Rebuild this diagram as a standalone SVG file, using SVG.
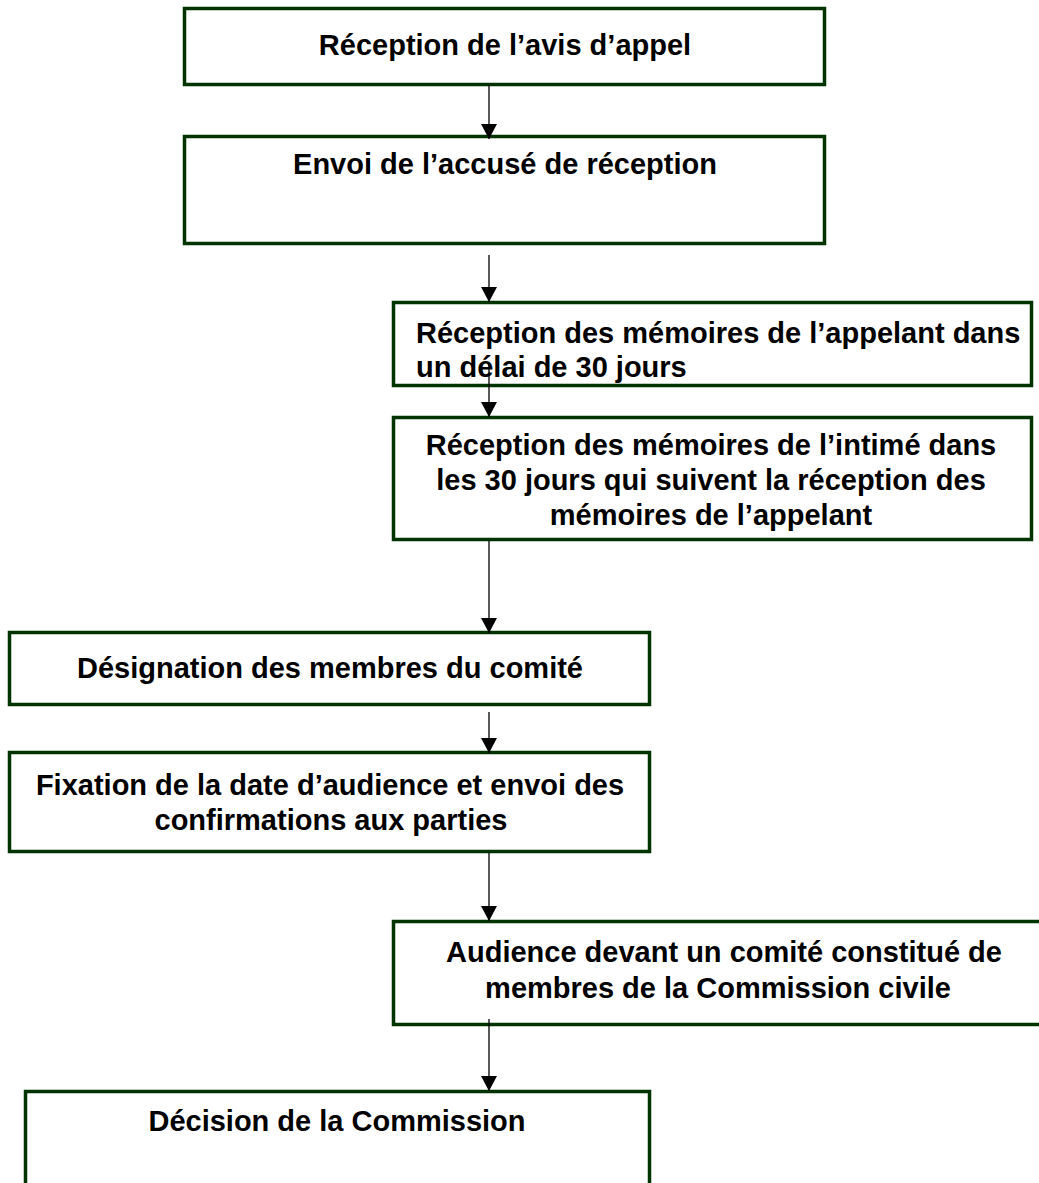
<svg xmlns="http://www.w3.org/2000/svg" width="1039" height="1183" viewBox="0 0 1039 1183">
<style>
.box{fill:#fff;stroke:#003300;stroke-width:3.5}
.t{font-family:"Liberation Sans",Arial,sans-serif;font-weight:bold;font-size:29px;fill:#000}
.m{text-anchor:middle}
.c{stroke:#000;stroke-width:1.3;fill:none;marker-end:url(#ah)}
</style>
<defs>
<marker id="ah" markerUnits="userSpaceOnUse" markerWidth="15" markerHeight="16" refX="15" refY="8" orient="auto">
<path d="M0,0 L15,8 L0,16 z" fill="#000"/>
</marker>
</defs>
<rect width="1039" height="1183" fill="#fff"/>
<g id="n1"><rect class="box" x="184.5" y="8.5" width="640" height="76"/>
<text class="t m" x="505" y="55">Réception de l’avis d’appel</text></g>
<g id="n2"><rect class="box" x="184.5" y="136.5" width="640" height="107"/>
<text class="t m" x="505" y="174">Envoi de l’accusé de réception</text></g>
<g id="n3"><rect class="box" x="393.5" y="302.5" width="638" height="83"/>
<text class="t" x="416" y="343">Réception des mémoires de l’appelant dans</text>
<text class="t" x="416" y="377">un délai de 30 jours</text></g>
<g id="n4"><rect class="box" x="393.5" y="417.5" width="638" height="122"/>
<text class="t m" x="711" y="455">Réception des mémoires de l’intimé dans</text>
<text class="t m" x="711" y="490">les 30 jours qui suivent la réception des</text>
<text class="t m" x="711" y="525">mémoires de l’appelant</text></g>
<g id="n5"><rect class="box" x="9.5" y="632.5" width="640" height="72"/>
<text class="t m" x="330" y="678">Désignation des membres du comité</text></g>
<g id="n6"><rect class="box" x="9.5" y="752.5" width="640" height="99"/>
<text class="t m" x="330" y="795">Fixation de la date d’audience et envoi des</text>
<text class="t m" x="331" y="830">confirmations aux parties</text></g>
<g id="n7"><rect class="box" x="393.5" y="921.5" width="660" height="103"/>
<text class="t m" x="724" y="962">Audience devant un comité constitué de</text>
<text class="t m" x="718" y="998">membres de la Commission civile</text></g>
<g id="n8"><rect class="box" x="25.5" y="1091.5" width="624" height="120"/>
<text class="t m" x="337" y="1131">Décision de la Commission</text></g>
<g id="connectors">
<line class="c" x1="489" y1="85" x2="489" y2="139"/>
<line class="c" x1="489" y1="255" x2="489" y2="302"/>
<line class="c" x1="489" y1="363" x2="489" y2="417"/>
<line class="c" x1="489" y1="541" x2="489" y2="633"/>
<line class="c" x1="489" y1="712" x2="489" y2="753"/>
<line class="c" x1="489" y1="853" x2="489" y2="921"/>
<line class="c" x1="489" y1="1019" x2="489" y2="1091"/>
</g>
</svg>
